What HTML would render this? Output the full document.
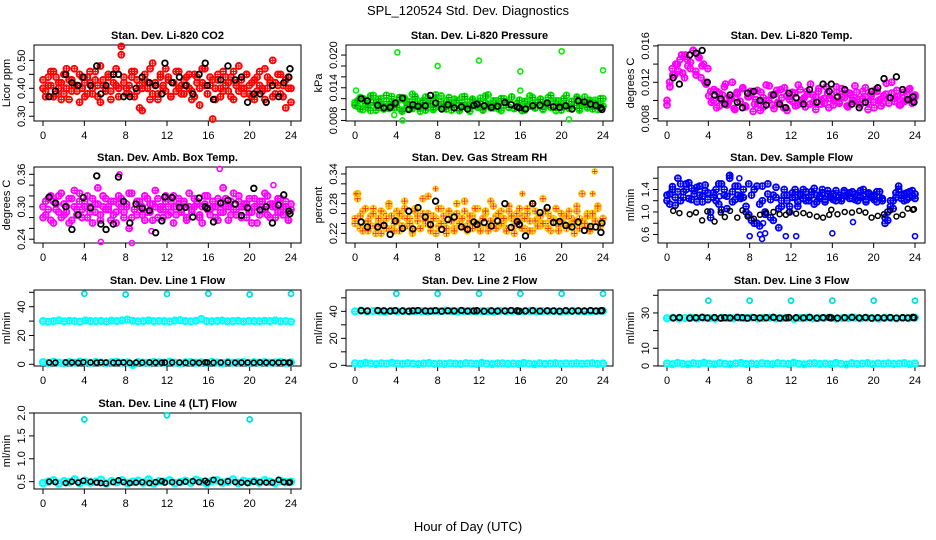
<!DOCTYPE html>
<html><head><meta charset="utf-8"><style>
html,body{margin:0;padding:0;background:#fff;}
svg{display:block;font-family:"Liberation Sans",sans-serif;}
</style></head><body>
<svg id="chart" width="936" height="540" viewBox="0 0 936 540" xmlns="http://www.w3.org/2000/svg">
<text x="468" y="15" text-anchor="middle" font-size="13">SPL_120524  Std. Dev. Diagnostics</text>
<text x="468" y="531" text-anchor="middle" font-size="13">Hour of Day (UTC)</text>
</svg>
<script>
// ---- data (black series share these hours) ----
const blackHours=[0.6,1.2,2.2,2.8,3.4,3.9,4.6,5.2,5.6,6.1,6.8,7.3,7.8,8.4,9.0,9.6,10.3,10.9,11.5,11.8,12.5,13.2,13.8,14.5,15.1,15.7,15.9,16.5,17.2,17.9,18.6,19.2,19.8,20.4,21.0,21.6,22.2,22.8,23.3,23.8,23.9];
const xTicks=[0,4,8,12,16,20,24];
// CO2 (hundredths of ppm)
const co2A=[40,37,44,41,46,38,42,36,45,40,43,39,47,41,35,44,42,38,46,40,43,37,48,41,39,45,36,42,47,40,52,44,38,41,46,37,43,33,40,45,42,36,49,41,38,44,40,47,43,37,42,39,46,41,38,44,40,36,45,42,34,47,41,38,44,29,40,43,37,46,41,39,44,36,42,48,40,38,45,41,37,43,39,46,40,36,44,42,50,38,41,45,37,43,40,35];
const co2B=[43,39,41,46,37,44,40,42,38,47,36,43,41,39,45,40,37,44,42,38,46,41,35,43,40,44,39,45,41,37,55,42,40,38,44,46,39,41,32,43,40,47,38,42,36,45,41,39,44,37,42,46,40,38,43,41,45,39,37,44,40,42,47,38,41,43,36,45,40,39,44,42,37,46,41,39,43,40,45,38,42,36,44,41,39,47,40,43,37,42,45,38,41,33,44,40];
const co2Black=[37,39,45,42,41,44,41,48,38,41,45,45,37,37,40,44,42,41,38,49,42,44,41,38,45,49,41,36,43,48,43,44,35,38,38,35,41,37,42,44,47];
// Pressure (1e-4 kPa)
const presA=[113,106,122,100,117,109,98,126,111,104,120,101,115,108,124,103,112,119,99,121,110,102,128,106,116,97,113,123,104,111,100,120,108,125,103,115,110,99,119,112,102,123,106,114,97,117,110,104,121,100,112,127,108,103,116,111,98,120,113,104,123,102,110,117,106,99,115,125,108,103,112,119,100,110,122,104,114,98,116,111,106,126,102,115,108,119,99,111,123,103,113,106,117,100,110,120];
const presB=[108,116,101,120,111,103,125,113,99,119,110,106,126,102,115,112,104,122,97,117,108,114,102,124,110,104,116,99,120,112,103,127,106,115,110,101,122,111,104,117,98,113,124,108,102,119,111,106,115,99,125,110,103,116,112,101,120,108,114,104,123,102,111,117,98,115,110,106,122,103,113,119,101,111,108,126,104,116,110,99,120,112,103,115,108,123,102,113,111,104,117,101,112,110,120,106];
const presOutHours=[0.1,4.1,8.0,12.0,16.0,16.0,20.0,24.0,4.6,20.7,3.8];
const presOutVals=[135,205,180,190,170,135,207,172,80,82,90];
const presBlack=[120,116,108,103,104,112,121,100,109,106,107,126,112,101,109,103,105,101,108,110,107,104,106,113,109,105,103,101,107,108,112,105,104,107,101,116,114,110,108,103,100];
// Li-820 temp (1e-4 degC)
const tempA=[100,120,135,128,140,145,130,150,138,142,155,132,148,125,140,118,105,98,112,92,108,100,115,95,103,120,90,107,99,113,94,104,110,88,101,96,109,93,117,100,106,91,111,97,103,114,89,105,99,108,95,112,101,93,107,118,98,104,110,96,102,115,92,106,100,109,97,113,103,94,108,99,116,101,95,110,104,90,107,98,112,100,94,105,119,97,108,102,111,95,103,99,106,113,100,104];
const tempB=[95,115,128,140,132,150,125,145,135,155,128,147,138,120,135,110,100,110,94,106,118,97,102,91,109,99,114,93,104,108,96,111,89,103,100,116,95,107,98,112,92,105,101,109,94,117,99,103,110,96,106,90,113,100,97,108,102,95,115,99,104,111,93,106,100,109,96,102,114,98,105,92,110,101,97,107,103,120,99,104,95,109,100,112,97,106];
const tempBlack=[125,118,150,152,155,120,106,102,96,106,98,92,108,110,100,95,106,96,92,108,103,96,112,98,118,110,118,104,112,96,92,98,110,114,124,103,126,112,101,104,98];
// Amb box temp (1e-3 degC)
const ambA=[280,310,295,320,270,305,290,325,285,300,315,275,330,295,310,280,300,320,290,270,305,335,285,300,315,295,275,310,290,320,300,280,305,260,325,295,285,310,300,275,315,290,305,330,280,300,295,320,285,310,270,300,315,290,305,280,325,295,300,310,285,270,305,320,295,300,280,315,290,335,300,275,310,295,285,320,300,305,280,315,290,300,270,310,295,325,285,305,300,280,315,290,300,310,275,295];
const ambB=[300,285,315,275,310,295,320,280,305,290,270,315,300,285,325,295,310,280,300,315,290,305,275,320,295,300,310,285,270,305,315,290,300,325,280,295,310,300,285,320,290,305,275,300,315,295,280,310,300,290,320,285,305,295,310,275,300,290,315,305,280,300,320,295,285,310,300,275,305,290,315,300,285,325,295,310,280,300,305,290,270,315,300,285,310,295,320,280,305,300,290,315,285,300,275,305];
const ambOutHours=[5.6,8.6,10.5,17.1,22.3,7.4];
const ambOutVals=[235,233,255,370,340,360];
const ambBlack=[318,307,300,258,285,317,298,357,268,258,268,355,310,270,305,297,293,252,274,318,317,299,299,281,316,300,297,272,307,312,305,284,298,334,294,300,270,303,322,292,287];
// Gas stream RH (1e-3 percent)
const rhA=[250,290,230,265,240,225,255,270,235,245,220,260,250,275,230,240,265,225,255,285,235,250,220,270,245,230,260,240,295,225,255,250,235,270,240,220,260,245,230,280,250,235,265,225,245,255,240,270,230,250,260,225,285,240,255,235,265,245,230,275,250,220,260,240,255,230,270,245,225,265,250,235,290,240,260,225,250,270,235,245,255,230,265,240,220,275,250,245,235,260,230,255,245,270,240,250];
const rhB=[240,300,255,225,270,245,235,260,220,250,265,240,230,280,255,225,245,260,235,270,250,240,225,265,255,230,290,245,260,235,250,220,270,240,255,230,265,245,225,260,240,250,285,235,255,230,270,240,225,250,265,235,245,275,230,260,240,250,225,265,255,235,245,270,230,250,260,225,280,245,235,255,240,265,230,250,245,270,225,260,240,255,235,250,245,265,230,300,240,255,225,260,245,275,235,250];
const rhOutHours=[7.8,16.2,23.2,23.0,0.1];
const rhOutVals=[310,300,345,300,300];
const rhBlack=[243,233,233,236,218,245,230,265,229,272,253,238,285,228,248,253,233,228,243,238,242,235,245,280,232,244,238,215,280,262,272,242,244,236,233,243,226,234,233,222,241];
// Sample flow (1e-2 ml/min)
const flowA=[120,132,145,112,136,150,126,140,152,122,138,144,130,118,148,134,100,126,140,114,150,130,106,160,136,122,146,128,140,110,95,130,80,146,75,120,100,150,90,130,126,72,110,140,120,100,134,126,110,130,140,120,126,136,114,130,124,140,118,132,128,122,138,126,120,134,130,124,136,122,130,126,140,118,132,128,122,136,126,120,90,85,110,120,126,140,130,120,134,126,138,124];
const flowB=[130,114,140,126,160,120,136,150,124,142,132,118,146,128,138,122,90,134,120,150,104,140,128,165,118,146,130,124,126,100,150,85,140,80,114,146,96,132,122,85,144,106,120,130,130,110,126,140,118,132,124,136,120,130,142,118,128,134,122,138,126,132,120,130,124,138,128,134,124,132,120,138,128,122,134,126,130,118,136,124,80,100,120,106,134,146,124,132,122,136,128,132];
const flowOutHours=[8,9,9.2,9.5,11.5,12.5,16,24,9.3,18,6,7,5.1];
const flowOutVals=[57,60,52,62,57,57,62,57,80,82,165,160,128];
const flowBlack=[102,98,96,99,85,101,83,99,91,102,90,103,92,88,95,98,100,96,95,100,97,98,95,92,90,95,104,96,100,99,102,99,90,93,96,103,92,95,106,104,105];
// Line flows (ml/min)
const line1High=[30,29.5,30,30.5,29.8,30.2,30,29.6,30.4,30,29.9,30.1,29.7,30.3,30,30.5,31,30.2,29.8,30,30.4,29.9,30.1,30,29.7,30.3,30.6,30,29.8,30.2,31.5,30,29.9,30.1,30.3,29.8,30,30.2,29.7,30.1,30,29.9,30.2,30,30.4,29.8,30,29.6];
const line1Low=[1.5,1,1.8,1.2,0.8,1.5,1.1,1.9,1.3,1,1.6,1.2,0.9,1.4,1.7,1.1,1.3,-0.5,1.5,1.2,1,1.6,1.3,1.1,1.8,1.2,0.9,1.4,1.5,1.1,1.3,1,1.7,1.2,0.8,1.5,1.1,1.3,1.6,1,1.4,1.2,1.5,1.1,1.3,1.6,1,1.4];
const line1Black=[1.2,1.1,1.3,1.2,1.0,1.4,1.2,1.1,1.3,1.2,1.1,1.2,1.3,1.0,1.2,1.1,1.3,1.2,1.1,1.2,1.3,1.2,1.1,1.2,1.0,1.3,1.2,1.1,1.2,1.3,1.1,1.2,1.2,1.0,1.3,1.2,1.1,1.2,1.3,1.2,1.1];
const line2High=[40,40.5,39.8,40.2,40,39.6,40.4,40,40.2,39.9,40.1,40,39.7,40.3,40,40.5,40.1,39.8,40,40.2,39.9,40.1,40,39.6,40.4,40,40.2,39.9,40,40.3,39.8,40.1,40,40.2,39.7,40,40.4,40.1,39.9,40,40.2,40.4];
const line2Low=[1.5,1.1,1.8,1.3,0.9,1.5,1.2,1.9,1.3,1.1,1.6,1.2,0.9,1.4,1.7,1.1,1.3,1.0,1.5,1.2,1.0,1.6,1.3,1.1,1.8,1.2,0.9,1.4,1.5,1.1,1.3,1.0,1.7,1.2,0.8,1.5,1.1,1.3,1.6,1.0,1.4,1.2,1.5,1.1,1.3,1.6,1.0,1.4];
const line2Black=[40.5,40.3,40.6,40.4,40.2,40.5,40.3,40.1,40.4,40.6,40.3,40.2,40.5,40.1,40.4,40.3,40.6,40.2,40.3,40.5,40.1,40.4,40.2,40.3,40.6,40.4,40.1,40.3,40.5,40.2,40.4,40.3,40.1,40.5,40.2,40.4,40.3,40.6,40.2,40.4,40.5];
const line3High=[27,27.3,26.8,27.1,27.4,26.9,27.2,27,26.7,27.3,27.1,26.9,27.2,27,27.4,26.8,27.1,27.3,26.9,27,27.2,26.6,27.1,27.3,26.9,27,27.2,27.4,26.8,27.1,27,27.3,26.9,27.2,27,26.8,27.3,27.1,26.9,27.2,27,27.4];
const line3Low=[1.4,1.0,1.7,1.2,0.9,1.5,1.1,1.8,1.3,1.0,1.6,1.2,0.9,1.4,1.7,1.1,1.3,1.0,1.5,1.2,1.0,1.6,1.3,1.1,1.8,1.2,0.9,1.4,1.5,1.1,1.3,1.0,1.7,1.2,0.8,1.5,1.1,1.3,1.6,1.0,1.4,1.2,1.5,1.1,1.3,1.6,1.0,1.4];
const line3Black=[27.2,27.4,27.1,27.3,27.5,27.2,27.4,27.1,27.3,27.2,27.5,27.3,27.1,27.4,27.2,27.3,27.5,27.1,27.2,27.4,27.3,27.2,27.5,27.1,27.3,27.4,27.2,27.1,27.3,27.5,27.2,27.4,27.1,27.3,27.2,27.4,27.1,27.3,27.2,27.5,27.3];
const line4Cyan=[0.47,0.5,0.53,0.46,0.51,0.49,0.55,0.47,0.52,0.48,0.5,0.54,0.46,0.51,0.49,0.53,0.47,0.5,0.52,0.48,0.55,0.46,0.51,0.5,0.53,0.47,0.49,0.52,0.48,0.54,0.5,0.46,0.51,0.53,0.48,0.5,0.55,0.47,0.52,0.49,0.51,0.48,0.53,0.5,0.47,0.52,0.49,0.5];
const line4Black=[0.5,0.49,0.47,0.5,0.48,0.52,0.5,0.48,0.47,0.46,0.49,0.53,0.49,0.47,0.48,0.49,0.47,0.49,0.51,0.48,0.49,0.48,0.5,0.51,0.49,0.52,0.48,0.54,0.49,0.51,0.49,0.48,0.47,0.5,0.49,0.48,0.48,0.54,0.49,0.48,0.49];
const flowOutlierHours=[4,8,12,16,20,24];
const line1Out=[49,48.5,48.8,49,48.5,49];
const line2Out=[53,53,53,53,53,53];
const line3Out=[37,37,37,37,37,37];
const line4OutHours=[4,12,20];
const line4Out=[1.86,1.95,1.86];

const svg=document.getElementById('chart');
const NS='http://www.w3.org/2000/svg';
const ROWTOP=[45,167,290,413], H=76;
function mk(tag,attrs,parent){const e=document.createElementNS(NS,tag);for(const k in attrs)e.setAttribute(k,attrs[k]);(parent||svg).appendChild(e);return e;}

function panel(col,row,title,ytitle,lo,hi,ticks,labels,fmt,name){
  const L=34+312*col,R=301+312*col,T=ROWTOP[row],B=T+H;
  const g=mk('g',{});
  
  
  const xs=h=>L+9+h*(248/24);
  const ys=v=>B-(v-lo)/(hi-lo)*H;
  const box=mk('rect',{x:L,y:T,width:R-L,height:H,fill:'none',stroke:'#000','stroke-width':1},g);
  
  
  const t=mk('text',{x:(L+R)/2,y:T-6,'text-anchor':'middle','font-size':11,'font-weight':'bold'},g);t.textContent=title;
  
  
  const yt=mk('text',{x:0,y:0,'text-anchor':'middle','font-size':11,transform:`translate(${L-24},${(T+B)/2}) rotate(-90)`},g);yt.textContent=ytitle;
  
  
  mk('line',{x1:xs(0),x2:xs(24),y1:B,y2:B,stroke:'#000'},g);
  xTicks.forEach(h=>{mk('line',{x1:xs(h),x2:xs(h),y1:B,y2:B+5,stroke:'#000'},g);
    const tl=mk('text',{x:xs(h),y:B+18,'text-anchor':'middle','font-size':11},g);tl.textContent=h;
    
    });
  mk('line',{x1:L,x2:L,y1:ys(ticks[0]),y2:ys(ticks[ticks.length-1]),stroke:'#000'},g);
  ticks.forEach(v=>{mk('line',{x1:L-5,x2:L,y1:ys(v),y2:ys(v),stroke:'#000'},g);});
  labels.forEach(v=>{const tl=mk('text',{x:0,y:0,'text-anchor':'middle','font-size':11,transform:`translate(${L-9},${ys(v)}) rotate(-90)`},g);tl.textContent=fmt(v);
    
    });
  const pts=mk('g',{},g);
  return {xs,ys,g:pts};
}
function pts(p,hours,vals,scale,color,r,sw,label,cross){
  const n=vals.length;
  vals.forEach((v,i)=>{
    const h=hours?hours[i]:i*24/(n-1);
    const cx=p.xs(h), cy=p.ys(v*scale);
    const c=mk('circle',{cx:cx,cy:cy,r:r,fill:'none',stroke:color,'stroke-width':sw},p.g);
    
    
    if(cross){
      const pl=mk('path',{d:`M${cx-r} ${cy}H${cx+r}M${cx} ${cy-r}V${cy+r}`,stroke:cross,'stroke-width':1},p.g);
      
      
    }
  });
}
const f2=v=>v.toFixed(2), f3=v=>v.toFixed(3), f1=v=>v.toFixed(1), f0=v=>String(v);

let p;
p=panel(0,0,'Stan. Dev. Li-820 CO2','Licor ppm',0.283,0.555,[0.30,0.35,0.40,0.45,0.50],[0.30,0.40,0.50],f2,'co2');
pts(p,null,co2A,0.01,'#ff0000',3,1.8,'co2-point','#ff0000');pts(p,null,co2B,0.01,'#ff0000',3,1.8,'co2-point','#ff0000');
pts(p,blackHours,co2Black,0.01,'#000',2.8,1.8,'co2-black-point');

p=panel(1,0,'Stan. Dev. Li-820 Pressure','kPa',0.0079,0.02185,[0.008,0.010,0.012,0.014,0.016,0.018,0.020],[0.008,0.014,0.020],f3,'pressure');
pts(p,null,presA,1e-4,'#00ee00',3,1.8,'pressure-point','#00aa00');pts(p,null,presB,1e-4,'#00dd00',3,1.8,'pressure-point','#009900');
pts(p,presOutHours,presOutVals,1e-4,'#00ee00',2.5,1.6,'pressure-outlier');
pts(p,blackHours,presBlack,1e-4,'#000',2.8,1.8,'pressure-black-point');

p=panel(2,0,'Stan. Dev. Li-820 Temp.','degrees C',0.00774,0.0161,[0.008,0.010,0.012,0.014,0.016],[0.008,0.012,0.016],f3,'temp');
pts(p,null,tempA,1e-4,'#ff00ff',3,1.8,'temp-point','#ff00ff');pts(p,null,tempB,1e-4,'#ff00ff',3,1.8,'temp-point','#ff00ff');
pts(p,blackHours,tempBlack,1e-4,'#000',2.8,1.8,'temp-black-point');

p=panel(0,1,'Stan. Dev. Amb. Box Temp.','degrees C',0.233,0.3735,[0.24,0.26,0.28,0.30,0.32,0.34,0.36],[0.24,0.30,0.36],f2,'ambbox');
pts(p,null,ambA,1e-3,'#ff00ff',3,1.8,'ambbox-point','#ff00ff');pts(p,null,ambB,1e-3,'#ff00ff',3,1.8,'ambbox-point','#ff00ff');
pts(p,ambOutHours,ambOutVals,1e-3,'#ff00ff',2.5,1.6,'ambbox-outlier');
pts(p,blackHours,ambBlack,1e-3,'#000',2.8,1.8,'ambbox-black-point');

p=panel(1,1,'Stan. Dev. Gas Stream RH','percent',0.2006,0.354,[0.22,0.24,0.26,0.28,0.30,0.32,0.34],[0.22,0.28,0.34],f2,'rh');
pts(p,null,rhA,1e-3,'#ffcc00',3,1.8,'rh-point','#ff2200');pts(p,null,rhB,1e-3,'#ffbb00',3,1.8,'rh-point','#ff3300');
pts(p,rhOutHours,rhOutVals,1e-3,'#ffcc00',2.5,1.6,'rh-outlier','#ff3300');
pts(p,blackHours,rhBlack,1e-3,'#000',2.8,1.8,'rh-black-point');

p=panel(2,1,'Stan. Dev. Sample Flow','ml/min',0.448,1.80,[0.6,0.8,1.0,1.2,1.4,1.6],[0.6,1.0,1.4],f1,'sampleflow');
pts(p,null,flowA,0.01,'#0000ff',3,1.8,'sampleflow-point','#0000ff');pts(p,null,flowB,0.01,'#0000ee',3,1.8,'sampleflow-point','#0000ee');
pts(p,flowOutHours,flowOutVals,0.01,'#0000ff',2.5,1.6,'sampleflow-outlier');
pts(p,blackHours,flowBlack,0.01,'#000',2.5,1.5,'sampleflow-black-point');

p=panel(0,2,'Stan. Dev. Line 1 Flow','ml/min',-1.2,51.6,[0,10,20,30,40,50],[0,20,40],f0,'line1');
pts(p,null,line1High,1,'#00ffff',3,2.2,'line1-point','#00ffff');pts(p,null,line1Low,1,'#00ffff',3,2.2,'line1-point','#00ffff');
pts(p,flowOutlierHours,line1Out,1,'#00dddd',2.5,1.8,'line1-outlier');
pts(p,blackHours,line1Black,1,'#000',2.5,1.6,'line1-black-point');

p=panel(1,2,'Stan. Dev. Line 2 Flow','ml/min',-0.5,55.8,[0,10,20,30,40,50],[0,20,40],f0,'line2');
pts(p,null,line2High,1,'#00ffff',3,2.2,'line2-point','#00ffff');pts(p,null,line2Low,1,'#00ffff',3,2.2,'line2-point','#00ffff');
pts(p,flowOutlierHours,line2Out,1,'#00dddd',2.5,1.8,'line2-outlier');
pts(p,blackHours,line2Black,1,'#000',2.8,1.8,'line2-black-point');

p=panel(2,2,'Stan. Dev. Line 3 Flow','ml/min',-0.04,43,[0,10,20,30,40],[0,10,30],f0,'line3');
pts(p,null,line3High,1,'#00ffff',3,2.2,'line3-point','#00ffff');pts(p,null,line3Low,1,'#00ffff',3,2.2,'line3-point','#00ffff');
pts(p,flowOutlierHours,line3Out,1,'#00dddd',2.5,1.8,'line3-outlier');
pts(p,blackHours,line3Black,1,'#000',2.8,1.8,'line3-black-point');

p=panel(0,3,'Stan. Dev. Line 4 (LT) Flow','ml/min',0.34,2.0,[0.5,1.0,1.5,2.0],[0.5,1.0,1.5,2.0],f1,'line4');
pts(p,null,line4Cyan,1,'#00ffff',3.2,2.2,'line4-point','#00ffff');
pts(p,line4OutHours,line4Out,1,'#00dddd',2.5,1.8,'line4-outlier');
pts(p,blackHours,line4Black,1,'#000',2.5,1.6,'line4-black-point');
</script>
</body></html>
